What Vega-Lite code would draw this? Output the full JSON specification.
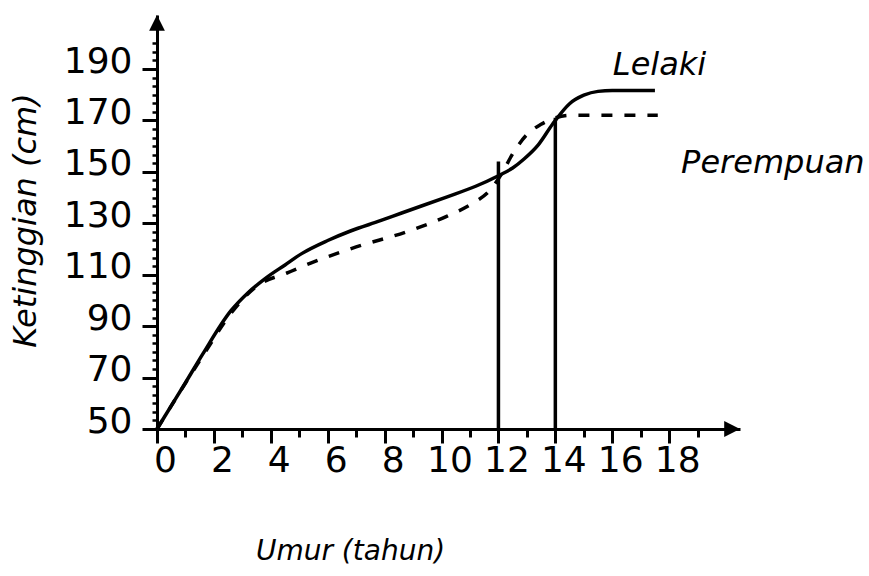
{
  "$schema": "https://vega.github.io/schema/vega-lite/v6.json",
  "width": 583,
  "height": 414,
  "autosize": {"type": "none"},
  "padding": {"left": 157, "top": 15, "right": 129, "bottom": 147},
  "background": "white",
  "config": {
    "view": {"stroke": null},
    "axis": {
      "grid": false,
      "domainColor": "black",
      "tickColor": "black",
      "labelColor": "black",
      "titleColor": "black",
      "labelFont": "DejaVu Sans",
      "titleFont": "DejaVu Sans"
    }
  },
  "datasets": {
    "lelaki": [
      {"age": 0, "height": 50}, {"age": 0.5, "height": 59}, {"age": 1, "height": 68},
      {"age": 1.6, "height": 79}, {"age": 2.6, "height": 96}, {"age": 3.2, "height": 103},
      {"age": 3.8, "height": 108.5}, {"age": 4.5, "height": 113.8}, {"age": 5.1, "height": 118.3},
      {"age": 6, "height": 123.3}, {"age": 6.8, "height": 127}, {"age": 7.85, "height": 131},
      {"age": 8.6, "height": 134}, {"age": 10.2, "height": 140.3}, {"age": 11.2, "height": 144.4},
      {"age": 12, "height": 148.5}, {"age": 12.5, "height": 151.5}, {"age": 12.9, "height": 155},
      {"age": 13.4, "height": 160.5}, {"age": 13.9, "height": 168.5}, {"age": 14.5, "height": 176.5},
      {"age": 15, "height": 179.8}, {"age": 15.5, "height": 181.3}, {"age": 16, "height": 181.6},
      {"age": 17.5, "height": 181.6}
    ],
    "perempuan": [
      {"age": 0, "height": 50}, {"age": 1.7, "height": 80}, {"age": 2.6, "height": 95},
      {"age": 3.5, "height": 105.5}, {"age": 4.6, "height": 110.8}, {"age": 5.4, "height": 114.5},
      {"age": 7, "height": 120.8}, {"age": 8.8, "height": 126.8}, {"age": 10.2, "height": 132.8},
      {"age": 11.1, "height": 137.8}, {"age": 11.7, "height": 142.8}, {"age": 12.1, "height": 149},
      {"age": 12.5, "height": 157}, {"age": 13, "height": 164.5}, {"age": 13.5, "height": 168.5},
      {"age": 14, "height": 171}, {"age": 14.5, "height": 172}, {"age": 17.6, "height": 172}
    ],
    "rules": [
      {"age": 12, "h0": 50, "h1": 154},
      {"age": 14, "h0": 50, "h1": 171}
    ],
    "labels": [
      {"age": 16.02, "height": 187.7, "label": "Lelaki"},
      {"age": 18.42, "height": 149.6, "label": "Perempuan"}
    ],
    "xarrow": [{"age": 20.49, "height": 50}],
    "yarrow": [{"age": 0, "height": 211}]
  },
  "layer": [
    {
      "data": {"name": "lelaki"},
      "mark": {"type": "line", "color": "black", "strokeWidth": 3.5, "interpolate": "monotone"},
      "encoding": {
        "x": {
          "field": "age", "type": "quantitative",
          "scale": {"domain": [0, 20.49], "nice": false, "zero": false},
          "axis": {
            "orient": "bottom",
            "values": [0, 2, 4, 6, 8, 10, 12, 14, 16, 18],
            "domainWidth": 3, "tickWidth": 3, "tickSize": 14,
            "labelFontSize": 36, "labelPadding": 0, "labelOffset": 8,
            "labelFlush": false, "labelOverlap": false, "labelBound": false,
            "title": "Umur (tahun)", "titleFontSize": 28, "titleFontStyle": "italic", "titleFontWeight": "normal",
            "titleX": 193, "titleY": 130, "titleAlign": "center", "titleBaseline": "alphabetic", "titleAnchor": null
          }
        },
        "y": {
          "field": "height", "type": "quantitative",
          "scale": {"domain": [50, 211], "nice": false, "zero": false},
          "axis": {
            "orient": "left",
            "values": [50, 70, 90, 110, 130, 150, 170, 190],
            "domainWidth": 3, "tickWidth": 3, "tickSize": 15,
            "labelFontSize": 36, "labelPadding": 10, "labelBaseline": "alphabetic", "labelOffset": 3,
            "labelFlush": false, "labelOverlap": false, "labelBound": false,
            "title": "Ketinggian (cm)", "titleFontSize": 32, "titleFontStyle": "italic", "titleFontWeight": "normal",
            "titleAngle": -90, "titleX": -122, "titleY": 205, "titleAlign": "center", "titleBaseline": "alphabetic", "titleAnchor": null
          }
        }
      }
    },
    {
      "data": {"name": "perempuan"},
      "mark": {"type": "line", "color": "black", "strokeWidth": 3.5, "strokeDash": [11, 12], "interpolate": "monotone"},
      "encoding": {
        "x": {
          "field": "age", "type": "quantitative",
          "scale": {"domain": [0, 20.49], "nice": false, "zero": false},
          "axis": {
            "orient": "bottom",
            "values": [1, 3, 5, 7, 9, 11, 13, 15, 17, 19],
            "domain": false, "labels": false, "tickWidth": 3, "tickSize": 8, "title": null
          }
        },
        "y": {
          "field": "height", "type": "quantitative",
          "scale": {"domain": [50, 211], "nice": false, "zero": false},
          "axis": {
            "orient": "left",
            "values": [53.33, 56.67, 60, 63.33, 66.67, 73.33, 76.67, 80, 83.33, 86.67, 93.33, 96.67, 100, 103.33, 106.67, 113.33, 116.67, 120, 123.33, 126.67, 133.33, 136.67, 140, 143.33, 146.67, 153.33, 156.67, 160, 163.33, 166.67, 173.33, 176.67, 180, 183.33, 186.67, 193.33, 196.67, 200],
            "domain": false, "labels": false, "tickWidth": 2.5, "tickSize": 5, "title": null
          }
        }
      }
    },
    {
      "data": {"name": "rules"},
      "mark": {"type": "rule", "color": "black", "strokeWidth": 3.5},
      "encoding": {
        "x": {"field": "age", "type": "quantitative", "scale": {"domain": [0, 20.49], "nice": false, "zero": false}, "axis": null},
        "y": {"field": "h0", "type": "quantitative", "scale": {"domain": [50, 211], "nice": false, "zero": false}, "axis": null},
        "y2": {"field": "h1"}
      }
    },
    {
      "data": {"name": "labels"},
      "mark": {"type": "text", "font": "DejaVu Sans", "fontStyle": "italic", "fontSize": 32, "align": "left", "baseline": "alphabetic", "color": "black"},
      "encoding": {
        "x": {"field": "age", "type": "quantitative", "scale": {"domain": [0, 20.49], "nice": false, "zero": false}, "axis": null},
        "y": {"field": "height", "type": "quantitative", "scale": {"domain": [50, 211], "nice": false, "zero": false}, "axis": null},
        "text": {"field": "label"}
      }
    },
    {
      "data": {"name": "xarrow"},
      "mark": {"type": "point", "shape": "M 0 0 L -1 -0.5 L -1 0.5 Z", "filled": true, "color": "black", "opacity": 1, "size": 1000},
      "encoding": {
        "x": {"field": "age", "type": "quantitative", "scale": {"domain": [0, 20.49], "nice": false, "zero": false}, "axis": null},
        "y": {"field": "height", "type": "quantitative", "scale": {"domain": [50, 211], "nice": false, "zero": false}, "axis": null}
      }
    },
    {
      "data": {"name": "yarrow"},
      "mark": {"type": "point", "shape": "M 0 0 L -0.5 1 L 0.5 1 Z", "filled": true, "color": "black", "opacity": 1, "size": 1000},
      "encoding": {
        "x": {"field": "age", "type": "quantitative", "scale": {"domain": [0, 20.49], "nice": false, "zero": false}, "axis": null},
        "y": {"field": "height", "type": "quantitative", "scale": {"domain": [50, 211], "nice": false, "zero": false}, "axis": null}
      }
    }
  ],
  "resolve": {"axis": {"x": "independent", "y": "independent"}}
}
